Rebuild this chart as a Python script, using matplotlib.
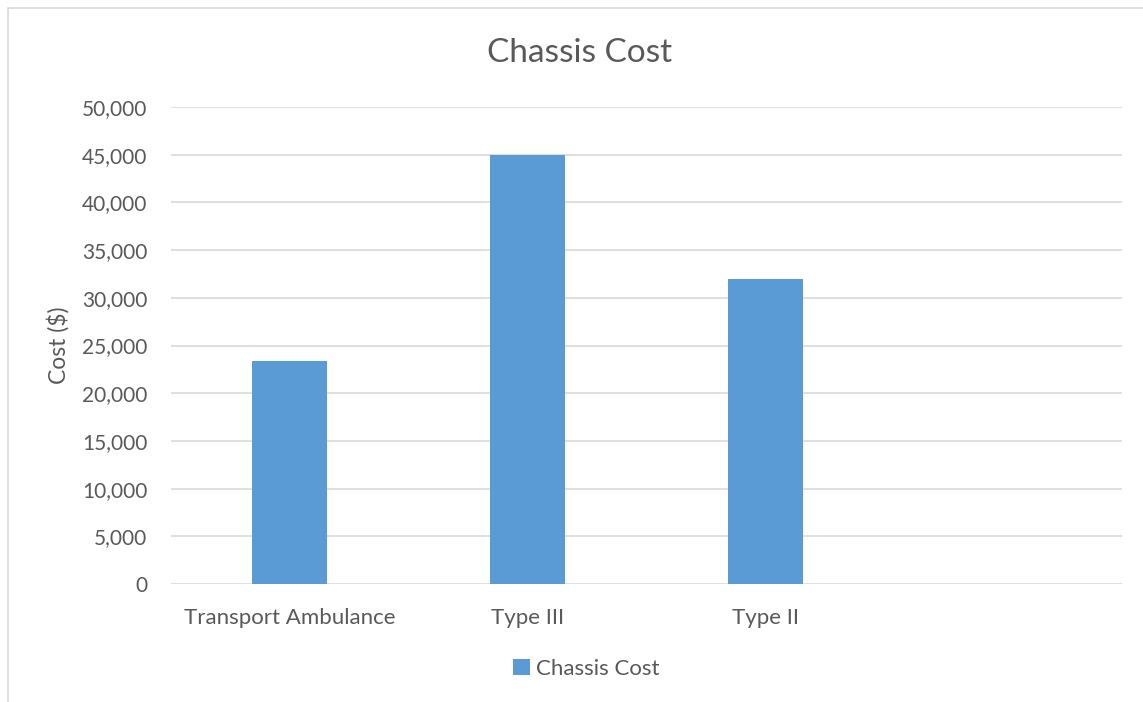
import matplotlib.pyplot as plt
from matplotlib.patches import Rectangle
from matplotlib.ticker import FuncFormatter

# data
categories = ["Transport Ambulance", "Type III", "Type II"]
chassis_cost = [23400, 45000, 32000]
series_name = "Chassis Cost"

text_color = "#595959"
bar_color = "#5B9BD5"
grid_color = "#D9D9D9"

plt.rcParams["font.family"] = ["Lato", "DejaVu Sans"]

fig = plt.figure(figsize=(11.43, 7.02), dpi=100)
ax = fig.add_axes([0.1496, 0.168, 0.8320, 0.6796])

# outer chart frame
fig.patches.append(Rectangle((8 / 1143, -0.01), 1.1, 1 - 8 / 702 + 0.01,
                             transform=fig.transFigure, fill=False,
                             edgecolor="#D9D9D9", linewidth=1.2))

x = list(range(len(categories)))
ax.bar(x, chassis_cost, width=0.315, color=bar_color, label=series_name,
       zorder=3)

ax.set_xlim(-0.5, 3.5)
ax.set_ylim(0, 50000)
ax.set_yticks(range(0, 50001, 5000))
ax.yaxis.set_major_formatter(FuncFormatter(lambda v, p: f"{int(v):,}"))
ax.set_xticks(x)
ax.set_xticklabels(categories)

ax.grid(axis="y", color=grid_color, linewidth=1.2, zorder=0)
for s in ax.spines.values():
    s.set_visible(False)
ax.tick_params(length=0, colors=text_color)
ax.tick_params(axis="y", labelsize=15, pad=17)
ax.tick_params(axis="x", labelsize=16, pad=17)

ax.set_ylabel("Cost ($)", fontsize=16.5, color=text_color, labelpad=9)
fig.text(0.507, 0.925, "Chassis Cost", ha="center", va="center",
         fontsize=24, color=text_color)

ax.legend(loc="center", bbox_to_anchor=(0.437, -0.178), frameon=False,
          fontsize=16, labelcolor=text_color, handlelength=0.75,
          handleheight=0.75, handletextpad=0.3)

fig.savefig("out.png", dpi=100)
